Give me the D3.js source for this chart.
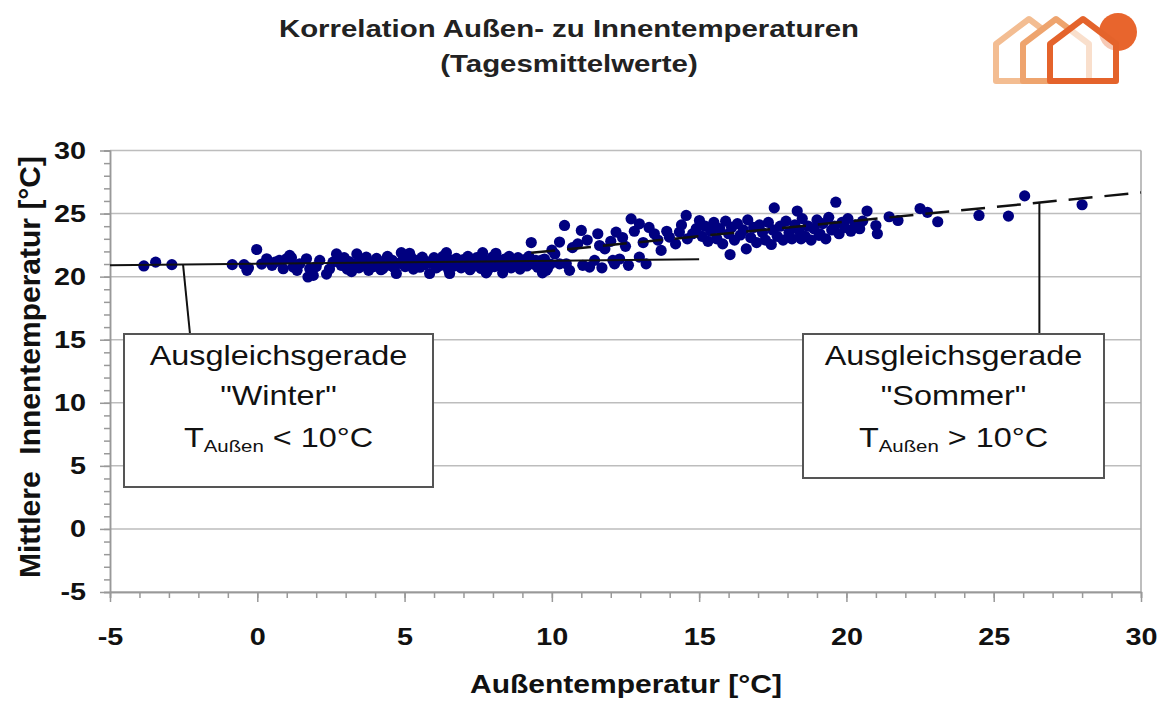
<!DOCTYPE html>
<html>
<head>
<meta charset="utf-8">
<script src="https://cdn.jsdelivr.net/npm/d3@7"></script>
<style>
  body { margin: 0; background: #fff; }
  text { font-family: "Liberation Sans", Arial, sans-serif; }
</style>
</head>
<body>
<script>
// outdoor vs indoor daily means [°C]
const winterPoints = [
  [-3.85,20.85],[-3.45,21.15],[-2.9,20.95],[-0.85,20.95],[-0.45,20.95],[-0.35,20.5],[-0.3,20.7],[-0.02,22.15],
  [0.15,21.0],[0.32,21.42],[0.5,20.9],[0.6,21.15],[0.75,21.3],[0.88,20.63],[0.99,21.42],[1.1,21.68],[1.16,21.5],
  [1.22,20.76],[1.35,20.5],[1.44,21.02],[1.67,21.42],[1.72,19.97],[1.78,20.63],[1.9,20.1],[2.0,20.8],[2.12,21.29],
  [2.35,20.2],[2.45,20.6],[2.57,21.15],[2.69,21.8],[2.74,21.42],
  [2.85,20.9],[2.95,21.5],[3.05,20.6],[3.12,21.2],[3.2,20.4],[3.3,21.0],[3.38,21.8],[3.45,20.7],[3.55,21.3],
  [3.62,20.95],[3.7,21.55],[3.78,20.5],
  [3.88,21.1],[3.95,20.8],[4.05,21.45],[4.12,21.0],[4.2,20.55],[4.26,20.65],[4.33,21.25],[4.42,21.6],[4.5,20.9],
  [4.58,21.3],[4.65,20.7],[4.72,20.25],[4.8,21.05],
  [4.89,21.9],[4.95,21.4],[5.02,20.8],[5.1,21.15],[5.17,21.85],[5.23,21.5],[5.3,20.6],[5.38,21.0],[5.45,21.3],
  [5.52,20.75],[5.6,21.55],[5.68,20.95],[5.75,21.2],
  [5.85,20.25],[5.92,21.05],[6.0,21.5],[6.08,20.7],[6.15,21.2],[6.22,20.9],[6.3,21.6],[6.38,21.0],[6.42,21.9],
  [6.5,20.5],[6.53,20.25],[6.6,21.3],[6.68,20.85],[6.76,21.45],
  [6.85,21.1],[6.92,20.7],[7.0,21.35],[7.08,20.95],[7.15,21.6],[7.22,20.55],[7.3,21.2],[7.38,20.85],[7.45,21.5],
  [7.52,21.0],[7.6,20.65],[7.65,21.9],[7.72,21.25],[7.77,20.3],[7.82,20.5],
  [7.9,21.1],[7.98,21.55],[8.05,20.8],[8.1,21.85],[8.18,21.3],[8.25,20.9],[8.33,20.3],[8.4,21.4],[8.48,21.0],
  [8.55,21.6],[8.62,20.7],[8.7,21.2],[8.78,20.95],[8.85,21.5],[8.92,20.6],[9.0,21.1],[9.08,21.35],[9.15,20.85],
  [9.22,21.6]
];

const summerPoints = [
  [9.3,22.7],[9.38,21.0],[9.45,21.3],[9.52,20.75],[9.6,21.15],[9.64,21.29],[9.68,20.3],[9.75,21.4],[9.81,20.5],
  [9.85,20.65],[9.95,21.0],[10.0,22.1],[10.1,21.8],[10.26,22.74],[10.43,24.06],[10.26,21.02],[10.49,21.02],
  [10.6,20.5],[10.7,22.3],[10.88,22.6],[11.0,23.66],[11.05,20.9],[11.2,22.9],[11.28,20.76],[11.45,21.29],
  [11.56,23.4],[11.62,22.47],[11.7,20.7],[11.8,22.2],[12.0,22.8],[12.07,21.29],[12.13,21.02],[12.18,23.53],
  [12.3,21.4],[12.4,23.1],[12.5,22.4],[12.6,20.9],[12.69,24.58],[12.8,23.6],[12.97,24.19],[12.97,21.55],
  [13.1,22.7],[13.2,21.02],[13.3,23.9],[13.48,23.4],[13.6,22.9],[13.71,22.08],[13.9,23.6],[13.99,23.13],
  [14.2,22.6],[14.33,23.53],[14.4,24.1],[14.56,24.85],[14.6,23.0],[14.78,23.4],[14.9,23.8],[15.01,24.45],
  [15.1,23.2],[15.2,24.0],[15.3,22.8],[15.35,23.92],[15.4,23.6],[15.5,24.3],[15.6,23.0],[15.7,23.8],[15.8,22.6],
  [15.9,24.4],[16.0,23.4],[16.05,21.75],[16.1,23.9],[16.2,22.9],[16.3,24.2],[16.4,23.3],[16.5,23.7],[16.6,22.2],
  [16.65,24.5],[16.75,23.1],[16.85,23.9],[16.95,22.7],[17.05,24.1],[17.15,23.5],[17.25,22.9],[17.35,24.3],
  [17.45,22.55],[17.5,23.7],[17.55,25.45],[17.65,23.2],[17.75,24.0],[17.85,22.9],[17.95,24.4],[18.05,23.5],
  [18.15,23.0],[18.25,24.1],[18.33,25.2],[18.4,23.6],[18.46,23.0],[18.5,24.6],[18.6,23.2],[18.7,24.0],[18.8,22.9],
  [18.9,23.8],[19.0,24.5],[19.07,23.27],[19.1,23.4],[19.2,24.2],[19.3,23.0],[19.4,24.7],[19.5,23.7],[19.6,24.0],
  [19.64,25.9],[19.75,23.4],[19.85,24.3],[19.95,23.9],[20.05,24.6],[20.15,23.6],[20.3,24.1],[20.45,23.8],
  [20.55,24.4],[20.7,25.2],[21.0,24.05],[21.05,23.4],[21.45,24.75],[21.75,24.45],[22.5,25.4],[22.75,25.1],
  [23.1,24.35],[24.5,24.85],[25.5,24.8],[26.05,26.4],[28.0,25.7]
];

// fitted lines
const winterFit = [[-5, 20.9], [15, 21.38]];
const summerFit = [[9.3, 21.89], [30, 26.67]];

const xTicks = [-5, 0, 5, 10, 15, 20, 25, 30];
const yTicks = [-5, 0, 5, 10, 15, 20, 25, 30];
const xMinor = d3.range(-5, 30.5, 1);
const yMinor = d3.range(-5, 30.5, 1);

const width = 1166, height = 702;
const sx = 1.2;

const svg = d3.select('body').append('svg')
  .attr('width', width)
  .attr('height', height);

const x = d3.scaleLinear().domain([-5, 30]).range([110, 1141]);
const y = d3.scaleLinear().domain([-5, 30]).range([592, 150.5]);

// grid
svg.append('g').selectAll('line')
  .data(yTicks)
  .enter().append('line')
  .attr('x1', x(-5)).attr('x2', x(30))
  .attr('y1', d => y(d)).attr('y2', d => y(d))
  .attr('stroke', '#bdbdbd').attr('stroke-width', 1.5);

svg.append('line')
  .attr('x1', x(30)).attr('x2', x(30))
  .attr('y1', y(30)).attr('y2', y(-5))
  .attr('stroke', '#a8a8a8').attr('stroke-width', 1.5);

// minor ticks
svg.append('g')
  .attr('transform', 'translate(0,' + y(-5) + ')')
  .call(d3.axisBottom(x).tickValues(xMinor).tickSize(6).tickFormat(''))
  .call(g => g.selectAll('line,path').attr('stroke', '#999').attr('stroke-width', 1.5));

svg.append('g')
  .attr('transform', 'translate(' + x(-5) + ',0)')
  .call(d3.axisLeft(y).tickValues(yMinor).tickSize(6).tickFormat(''))
  .call(g => g.selectAll('line,path').attr('stroke', '#999').attr('stroke-width', 1.5));

// major axes (plain hyphen for negatives)
const xAxis = svg.append('g')
  .attr('transform', 'translate(0,' + y(-5) + ')')
  .call(d3.axisBottom(x).tickValues(xTicks).tickFormat(d => String(d))
    .tickSize(10).tickPadding(26).tickSizeOuter(0));

const yAxis = svg.append('g')
  .attr('transform', 'translate(' + x(-5) + ',0)')
  .call(d3.axisLeft(y).tickValues(yTicks).tickFormat(d => String(d))
    .tickSize(10).tickSizeOuter(0));

[xAxis, yAxis].forEach(g => {
  g.selectAll('line,path').attr('stroke', '#999').attr('stroke-width', 1.5);
  g.selectAll('text')
    .attr('fill', '#111')
    .attr('font-size', 24)
    .attr('font-weight', 'bold')
    .attr('font-family', '"Liberation Sans", Arial, sans-serif');
});
xAxis.selectAll('text').attr('transform', 'scale(' + sx + ',1)');
yAxis.selectAll('text').attr('x', -20).attr('transform', 'scale(' + sx + ',1)');

// fit lines
const line = d3.line().x(d => x(d[0])).y(d => y(d[1]));

// points
svg.append('g').selectAll('circle')
  .data(winterPoints.concat(summerPoints))
  .enter().append('circle')
  .attr('cx', d => x(d[0]))
  .attr('cy', d => y(d[1]))
  .attr('r', 5.6)
  .attr('fill', '#000080');

svg.append('path')
  .datum(winterFit)
  .attr('d', line)
  .attr('fill', 'none')
  .attr('stroke', '#111')
  .attr('stroke-width', 2);

svg.append('path')
  .datum(summerFit)
  .attr('d', line)
  .attr('fill', 'none')
  .attr('stroke', '#111')
  .attr('stroke-width', 2.5)
  .attr('stroke-dasharray', '24,12');

function fitAt(fit, v) {
  const t = (v - fit[0][0]) / (fit[1][0] - fit[0][0]);
  return fit[0][1] + t * (fit[1][1] - fit[0][1]);
}

// callouts
function callout(box, anchorX, fit, footX, lines, op) {
  svg.append('line')
    .attr('x1', x(anchorX)).attr('y1', y(fitAt(fit, anchorX)))
    .attr('x2', footX).attr('y2', box.y)
    .attr('stroke', '#111').attr('stroke-width', 2);

  svg.append('rect')
    .attr('x', box.x).attr('y', box.y)
    .attr('width', box.w).attr('height', box.h)
    .attr('fill', '#fff')
    .attr('stroke', '#555')
    .attr('stroke-width', 2);

  const cx = box.x + box.w / 2;
  lines.forEach((s, i) => {
    svg.append('text')
      .attr('transform', 'translate(' + cx + ',' + (box.y + 31 + i * 40) + ') scale(' + sx + ',1)')
      .attr('text-anchor', 'middle')
      .attr('font-size', 27)
      .attr('fill', '#111')
      .text(s);
  });

  const t = svg.append('text')
    .attr('transform', 'translate(' + cx + ',' + (box.y + 113) + ') scale(' + sx + ',1)')
    .attr('text-anchor', 'middle')
    .attr('font-size', 27)
    .attr('fill', '#111');
  t.append('tspan').text('T');
  t.append('tspan').attr('font-size', 17).attr('dy', 5).text('Außen');
  t.append('tspan').attr('dy', -5).text(' ' + op + ' 10°C');
}

callout({x: 124, y: 334, w: 309, h: 153}, -2.52, winterFit, 190,
  ['Ausgleichsgerade', '"Winter"'], '<');
callout({x: 803, y: 334, w: 301, h: 144}, 26.55, summerFit, x(26.55),
  ['Ausgleichsgerade', '"Sommer"'], '>');

// titles
svg.append('text')
  .attr('transform', 'translate(569,37) scale(' + sx + ',1)')
  .attr('text-anchor', 'middle')
  .attr('font-size', 24.5)
  .attr('font-weight', 'bold')
  .attr('fill', '#222')
  .text('Korrelation Außen- zu Innentemperaturen');

svg.append('text')
  .attr('transform', 'translate(569,72) scale(' + sx + ',1)')
  .attr('text-anchor', 'middle')
  .attr('font-size', 24.5)
  .attr('font-weight', 'bold')
  .attr('fill', '#222')
  .text('(Tagesmittelwerte)');

svg.append('text')
  .attr('transform', 'translate(626,693) scale(' + sx + ',1)')
  .attr('text-anchor', 'middle')
  .attr('font-size', 25)
  .attr('font-weight', 'bold')
  .attr('fill', '#111')
  .text('Außentemperatur [°C]');

svg.append('text')
  .attr('transform', 'translate(40,367) rotate(-90)')
  .attr('text-anchor', 'middle')
  .attr('font-size', 30)
  .attr('font-weight', 'bold')
  .attr('fill', '#111')
  .attr('xml:space', 'preserve')
  .text('Mittlere  Innentemperatur [°C]');

// logo
const logo = svg.append('g');
logo.append('circle')
  .attr('cx', 1118).attr('cy', 32).attr('r', 19)
  .attr('fill', '#e8652d');
const house = (dx) => {
  const b = 81, e = 44, a = 19, l = 1050 - dx, r = 1116 - dx;
  return 'M' + l + ',' + b + 'L' + l + ',' + e + 'L' + ((l + r) / 2) + ',' + a +
    'L' + r + ',' + e + 'L' + r + ',' + b + 'Z';
};
[[54, '#f3bd92', 1], [27, '#eea46e', 1], [0, '#e4632b', 0.65]].forEach(h => {
  logo.append('path')
    .attr('d', house(h[0]))
    .attr('fill', '#fff')
    .attr('fill-opacity', h[2])
    .attr('stroke', h[1])
    .attr('stroke-width', 6)
    .attr('stroke-linejoin', 'round');
});
</script>
</body>
</html>
